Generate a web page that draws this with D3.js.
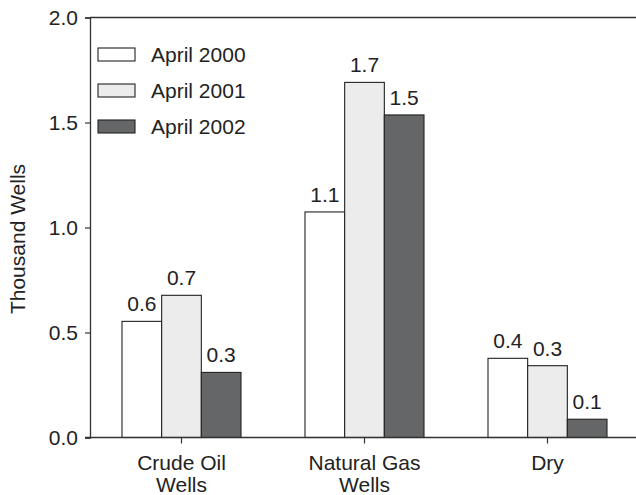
<!DOCTYPE html>
<html>
<head>
<meta charset="utf-8">
<script src="https://cdn.jsdelivr.net/npm/d3@7"></script>
<style>
  html, body { margin: 0; padding: 0; background: #fff; }
  svg { display: block; font-family: "Liberation Sans", Arial, Helvetica, sans-serif; }
</style>
</head>
<body>
<svg id="chart" width="636" height="495"></svg>
<script>
// Well completions by type, in thousands of wells
const categories = [["Crude Oil", "Wells"], ["Natural Gas", "Wells"], ["Dry"]];
const seriesNames = ["April 2000", "April 2001", "April 2002"];
const april2000 = [0.553, 1.074, 0.377];
const april2001 = [0.677, 1.691, 0.342];
const april2002 = [0.310, 1.536, 0.087];
const yTicks = [0, 0.5, 1.0, 1.5, 2.0];
const seriesColors = ["#ffffff", "#ebeceb", "#656667"];

const values = [april2000, april2001, april2002];
const catKeys = categories.map(c => c.join(" "));

const svg = d3.select("#chart");
const plotLeft = 90, plotRight = 639, plotTop = 17.5, plotBottom = 437.5;
const ink = "#222";
const fs = 21;

const x0 = d3.scaleBand().domain(catKeys).range([plotLeft, plotRight]).padding(0);
const groupHalf = 59.5;
const x1 = d3.scaleBand().domain(seriesNames)
  .range([x0.bandwidth() / 2 - groupHalf, x0.bandwidth() / 2 + groupHalf]).padding(0);
const y = d3.scaleLinear().domain([0, 2]).range([plotBottom, plotTop]);
const fmt = d3.format(".1f");

// frame: top border line
svg.append("line")
  .attr("x1", plotLeft).attr("x2", 636).attr("y1", plotTop).attr("y2", plotTop)
  .attr("stroke", "#333").attr("stroke-width", 1.3);

// bars
const groups = svg.append("g").selectAll("g")
  .data(catKeys).join("g")
  .attr("transform", d => `translate(${x0(d)},0)`);

groups.each(function(cat, ci) {
  const g = d3.select(this);
  const rows = seriesNames.map((s, si) => ({ s, si, v: values[si][ci] }));
  g.selectAll("rect").data(rows).join("rect")
    .attr("x", d => x1(d.s))
    .attr("y", d => y(d.v))
    .attr("width", x1.bandwidth())
    .attr("height", d => y(0) - y(d.v))
    .attr("fill", d => seriesColors[d.si])
    .attr("stroke", ink).attr("stroke-width", 1.1);
  g.selectAll("text").data(rows).join("text")
    .attr("x", d => x1(d.s) + x1.bandwidth() / 2)
    .attr("y", d => y(d.v) - 10)
    .attr("text-anchor", "middle")
    .attr("font-size", fs)
    .attr("fill", ink)
    .text(d => fmt(d.v));
});

// y axis
const yAxis = d3.axisLeft(y).tickValues(yTicks).tickFormat(fmt).tickSize(5).tickPadding(7);
const yg = svg.append("g").attr("transform", `translate(${plotLeft},0)`).call(yAxis);
yg.select(".domain").attr("stroke", "#333").attr("stroke-width", 1.3);
yg.selectAll(".tick line").attr("stroke", "#333").attr("stroke-width", 1.2);
yg.selectAll(".tick text").attr("font-size", fs).attr("fill", ink)
  .attr("font-family", "Liberation Sans, Arial, sans-serif");

// x axis
const xAxis = d3.axisBottom(x0).tickSize(6).tickFormat("");
const xg = svg.append("g").attr("transform", `translate(0,${plotBottom})`).call(xAxis);
xg.select(".domain").remove();
xg.selectAll(".tick line").attr("stroke", "#333").attr("stroke-width", 1.2);
svg.append("line")
  .attr("x1", plotLeft - 5).attr("x2", 636).attr("y1", plotBottom).attr("y2", plotBottom)
  .attr("stroke", "#333").attr("stroke-width", 1.3);

// category labels, possibly on two lines
svg.append("g").selectAll("text").data(categories).join("text")
  .attr("x", (d, i) => x0(catKeys[i]) + x0.bandwidth() / 2)
  .attr("y", 469.5)
  .attr("text-anchor", "middle")
  .attr("font-size", fs)
  .attr("fill", ink)
  .each(function(d) {
    const t = d3.select(this);
    d.forEach((line, li) => {
      t.append("tspan")
        .attr("x", t.attr("x"))
        .attr("dy", li === 0 ? 0 : 22)
        .text(line);
    });
  });

// y axis title
svg.append("text")
  .attr("transform", "translate(25,239) rotate(-90)")
  .attr("text-anchor", "middle")
  .attr("font-size", fs)
  .attr("fill", ink)
  .text("Thousand Wells");

// legend
const legend = svg.append("g").selectAll("g").data(seriesNames).join("g")
  .attr("transform", (d, i) => `translate(98,${48 + i * 36})`);
legend.append("rect")
  .attr("width", 37).attr("height", 13)
  .attr("fill", (d, i) => seriesColors[i])
  .attr("stroke", ink).attr("stroke-width", 1.1);
legend.append("text")
  .attr("x", 53).attr("y", 13.8)
  .attr("font-size", fs)
  .attr("fill", ink)
  .text(d => d);
</script>
</body>
</html>
